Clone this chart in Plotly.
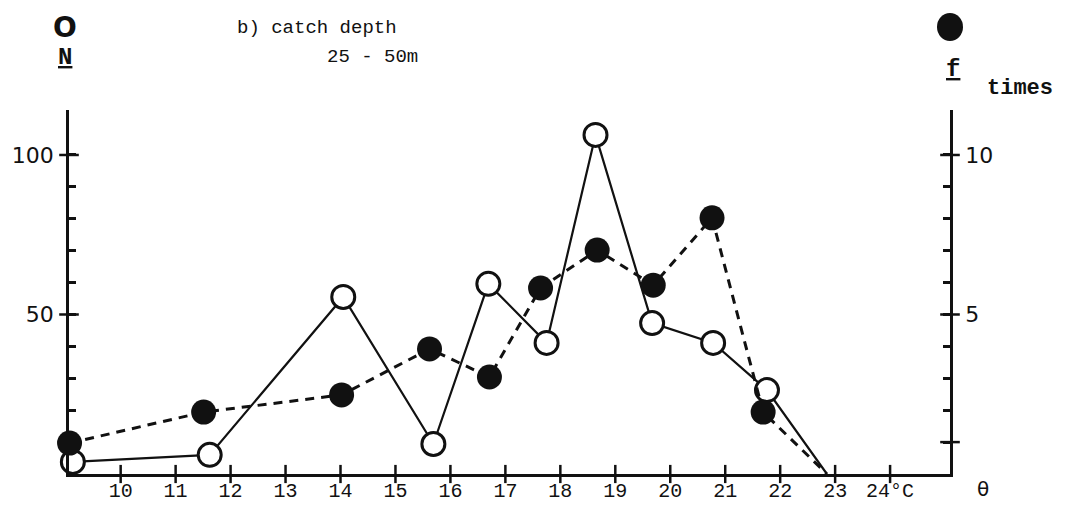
import plotly.graph_objects as go

# Catch depth 25 - 50 m: number caught (N) and frequency (f) against temperature
temp_n = [9.13, 11.62, 14.05, 15.69, 16.69, 17.75, 18.64, 19.67, 20.78, 21.76, 22.85]
n_vals = [3.8, 6.0, 55.5, 9.4, 59.6, 41.1, 106.3, 47.3, 41.1, 26.3, 0]

temp_f = [9.07, 11.51, 14.02, 15.62, 16.71, 17.64, 18.67, 19.69, 20.76, 21.69, 22.85]
f_vals = [0.97, 1.94, 2.48, 3.92, 3.04, 5.83, 7.02, 5.92, 8.03, 1.94, 0]

x_ticks = list(range(10, 25))
x_labels = [str(t) for t in x_ticks[:-1]] + ["24°C"]
n_ticks = list(range(10, 101, 10))
n_labels = ["50" if v == 50 else "100" if v == 100 else "" for v in n_ticks]
f_ticks = list(range(1, 11))
f_labels = ["5" if v == 5 else "10" if v == 10 else "" for v in f_ticks]

X_MIN, X_MAX = 9.06, 25.09
N_MAX = 114.1
F_MAX = N_MAX / 10

INK = "#111111"
MONO = "Liberation Mono"
SANS = "DejaVu Sans"

fig = go.Figure()

# f (filled circles, dashed line)
fig.add_trace(go.Scatter(
    x=temp_f, y=f_vals, yaxis="y2", mode="lines+markers",
    line=dict(color=INK, width=3, dash="9px,7px"),
    marker=dict(size=[25] * (len(f_vals) - 1) + [0], color=INK, opacity=1,
                line=dict(width=0)),
    cliponaxis=False, hoverinfo="skip", showlegend=False,
))

# N (open circles, solid line)
fig.add_trace(go.Scatter(
    x=temp_n, y=n_vals, mode="lines+markers",
    line=dict(color=INK, width=2.2),
    marker=dict(size=[23] * (len(n_vals) - 1) + [0], color="white", opacity=1,
                line=dict(color=INK, width=3)),
    cliponaxis=False, hoverinfo="skip", showlegend=False,
))

# crossing tick marks on the temperature axis
fig.add_trace(go.Scatter(
    x=x_ticks, y=[0] * len(x_ticks), mode="markers",
    marker=dict(symbol="line-ns", size=13, line=dict(color=INK, width=2.5)),
    cliponaxis=False, hoverinfo="skip", showlegend=False,
))
# crossing ticks at the labelled N values
fig.add_trace(go.Scatter(
    x=[X_MIN, X_MIN], y=[50, 100], mode="markers",
    marker=dict(symbol="line-ew", size=14, line=dict(color=INK, width=2.5)),
    cliponaxis=False, hoverinfo="skip", showlegend=False,
))
# crossing ticks on the f axis
fig.add_trace(go.Scatter(
    x=[X_MAX] * 3, y=[1, 5, 10], yaxis="y2", mode="markers",
    marker=dict(symbol="line-ew", size=14, line=dict(color=INK, width=2.5)),
    cliponaxis=False, hoverinfo="skip", showlegend=False,
))

fig.update_layout(
    template="none",
    width=1070, height=506,
    margin=dict(l=69, r=120, t=110, b=32, pad=0),
    paper_bgcolor="white", plot_bgcolor="white",
    xaxis=dict(
        range=[X_MIN, X_MAX], showgrid=False, zeroline=False, automargin=False,
        showline=True, linecolor=INK, linewidth=2.5,
        tickvals=x_ticks, ticktext=x_labels, ticks="",
        tickfont=dict(family=MONO, size=20, color=INK),
        ticklabelstandoff=-4,
    ),
    yaxis=dict(
        range=[0, N_MAX], showgrid=False, zeroline=False, automargin=False,
        showline=True, linecolor=INK, linewidth=2.5,
        tickvals=n_ticks, ticktext=n_labels, ticks="inside",
        ticklen=7, tickwidth=2.5, tickcolor=INK,
        tickfont=dict(family=SANS, size=22, color=INK),
        ticklabelstandoff=8,
    ),
    yaxis2=dict(
        range=[0, F_MAX], overlaying="y", side="right", automargin=False,
        showgrid=False, zeroline=False,
        showline=True, linecolor=INK, linewidth=2.5,
        tickvals=f_ticks, ticktext=f_labels, ticks="inside",
        ticklen=7, tickwidth=2.5, tickcolor=INK,
        tickfont=dict(family=SANS, size=22, color=INK),
        ticklabelstandoff=8,
    ),
)

PLOT_L, PLOT_W, PLOT_B, PLOT_H = 69, 881, 474, 364


def px(x):
    return (x - PLOT_L) / PLOT_W


def py(y):
    return (PLOT_B - y) / PLOT_H


notes = [
    dict(text="<b>O</b>", x=px(65), y=py(28), font=dict(family=SANS, size=28)),
    dict(text="<b><u>N</u></b>", x=px(65), y=py(57), font=dict(family=MONO, size=24)),
    dict(text="<b><u>f</u></b>", x=px(953), y=py(70), font=dict(family=MONO, size=24)),
    dict(text="<b>times</b>", x=px(985), y=py(88), xanchor="left",
         font=dict(family=MONO, size=22)),
    dict(text="b) catch depth", x=px(235), y=py(28), xanchor="left",
         font=dict(family=MONO, size=19)),
    dict(text="25 - 50m", x=px(325), y=py(57), xanchor="left",
         font=dict(family=MONO, size=19)),
    dict(text="θ", x=px(983), y=py(489), font=dict(family=SANS, size=20)),
]
for a in notes:
    a.setdefault("xanchor", "center")
    a["font"]["color"] = INK
    fig.add_annotation(xref="paper", yref="paper", yanchor="middle",
                       showarrow=False, **a)

# filled-circle key above the f axis
fig.add_shape(type="circle", xref="paper", yref="paper",
              xsizemode="pixel", ysizemode="pixel",
              xanchor=1.0, yanchor=py(27),
              x0=-13, x1=13, y0=-14, y1=14,
              fillcolor=INK, line=dict(width=0))

fig.write_html("out.html")
